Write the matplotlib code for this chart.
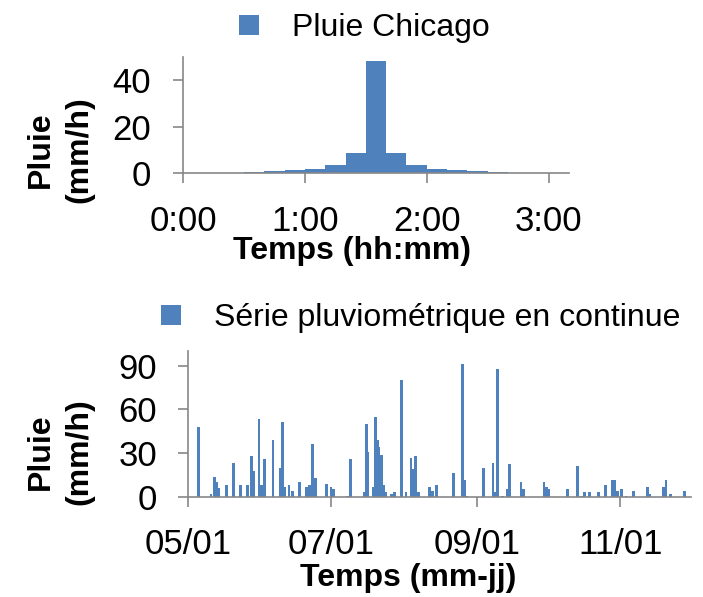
import matplotlib
matplotlib.use("Agg")
import matplotlib.pyplot as plt
from matplotlib.lines import Line2D
import numpy as np

plt.rcParams["font.family"] = ["Liberation Sans", "DejaVu Sans"]

BLUE = "#4F81BD"
GREY = "#878787"

# Chicago design storm, 10 minute steps (start of step, minutes)
chicago_start = [0, 10, 20, 30, 40, 50, 60, 70, 80, 90,
                 100, 110, 120, 130, 140, 150, 160, 170, 180]
chicago_rain = [0.1, 0.1, 0.1, 0.5, 0.9, 1.3, 2.0, 3.6, 8.6, 48.3,
                8.6, 3.6, 2.0, 1.3, 0.9, 0.5, 0.1, 0.1, 0.1]
time_ticks = [0, 60, 120, 180]
time_labels = ["0:00", "1:00", "2:00", "3:00"]

# continuous rainfall series: days after 05/01, intensity mm/h
serie_day = [4.5, 9.9, 11.3, 12.3, 13.0, 16.4, 19.6, 22.4, 25.5, 27.2,
             28.2, 30.3, 31.5, 32.6, 36.3, 39.3, 40.3, 41.4, 43.1, 44.5,
             47.4, 50.4, 51.8, 53.0, 53.9, 54.6, 59.1, 61.0, 62.0, 68.0,
             69.1, 75.0, 76.2, 76.7, 79.0, 80.0, 80.9, 81.4, 82.3, 83.2,
             84.4, 86.8, 87.9, 91.0, 92.9, 95.0, 96.2, 97.0, 98.1, 102.9,
             104.1, 105.8, 113.0, 116.9, 117.7, 118.6, 126.0, 129.9, 130.8, 131.7,
             133.9, 135.9, 136.9, 141.8, 143.0, 151.6, 152.5, 153.4, 161.7, 165.8,
             167.7, 168.8, 170.8, 174.7, 177.6, 180.8, 181.8, 183.0, 184.7, 186.5,
             189.6, 195.6, 196.7, 202.5, 203.5, 205.5, 211.5]
serie_rain = [48, 2, 13.6, 10, 6, 8, 23.4, 8, 8, 28,
              17.7, 53.6, 8, 26, 39, 20, 51.4, 7, 8, 4,
              10.5, 7, 8, 36, 13, 12.7, 8.6, 7, 5.5, 1,
              26, 3.6, 50, 31, 7, 54.8, 39, 34, 29, 8,
              3.6, 1.8, 3.6, 80, 3.6, 27, 19.5, 28, 3.6, 6.8,
              4, 8, 16.6, 91, 11.6, 1, 20, 23.6, 3.6, 87.7,
              1, 5.5, 22.7, 10.5, 5.5, 10.5, 7, 5.5, 5.5, 21,
              1, 3.6, 3.6, 3.6, 8.4, 11.8, 11.8, 3.9, 5.7, 1,
              4.3, 6.8, 2.3, 6.8, 11.8, 2.3, 4.3]
date_ticks = [0, 61, 123, 184]
date_labels = ["05/01", "07/01", "09/01", "11/01"]

W, H = 703, 597
fig = plt.figure(figsize=(W / 100, H / 100), dpi=100)


def px_axes(x0, y0, x1, y1):
    return fig.add_axes([x0 / W, 1 - y1 / H, (x1 - x0) / W, (y1 - y0) / H])


def style(ax, pad):
    for s in ["top", "right"]:
        ax.spines[s].set_visible(False)
    for s in ["left", "bottom"]:
        ax.spines[s].set_color(GREY)
        ax.spines[s].set_linewidth(1.2)
    ax.tick_params(direction="out", length=7, width=1.2, color=GREY,
                   labelsize=25, pad=pad)


ax1 = px_axes(183, 56.7, 569, 173.3)
ax1.bar(chicago_start, chicago_rain, width=10, align="edge", color=BLUE, linewidth=0)
ax1.set_xlim(0, 190)
ax1.set_ylim(0, 50)
ax1.set_yticks([0, 20, 40])
ax1.set_xticks(time_ticks)
ax1.set_xticklabels(time_labels)
style(ax1, 16)

ax2 = px_axes(187.7, 351, 690.7, 497)
ax2.bar(serie_day, serie_rain, width=1.2, color=BLUE, linewidth=0)
ax2.set_xlim(0, 214)
ax2.set_ylim(0, 100)
ax2.set_yticks([0, 30, 60, 90])
ax2.set_xticks(date_ticks)
ax2.set_xticklabels(date_labels)
style(ax2, 15)

for y in (150, 452):
    fig.text(60 / W, 1 - y / H, "Pluie\n(mm/h)", rotation=90, fontsize=23,
             fontweight="bold", ha="center", va="center", linespacing=1.35)
fig.text(352 / W, 1 - 251 / H, "Temps (hh:mm)", fontsize=23, fontweight="bold",
         ha="center", va="center")
fig.text(408 / W, 1 - 578 / H, "Temps (mm-jj)", fontsize=23, fontweight="bold",
         ha="center", va="center")


def legend(label, cx, cy):
    h = Line2D([], [], linestyle="none", marker="s", markersize=14.4,
               markerfacecolor=BLUE, markeredgewidth=0)
    fig.legend([h], [label], loc="center", bbox_to_anchor=(cx / W, 1 - cy / H),
               frameon=False, fontsize=23, handlelength=0.7, handletextpad=1.0,
               borderpad=0, borderaxespad=0)


legend("Pluie Chicago", 364, 28)
legend("Série pluviométrique en continue", 420, 318)

fig.savefig("out.png", dpi=100)
